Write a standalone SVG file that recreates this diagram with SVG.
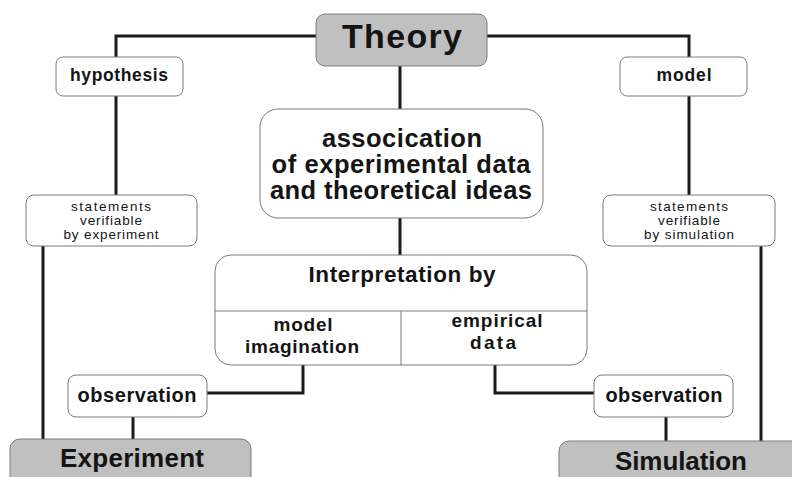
<svg xmlns="http://www.w3.org/2000/svg" width="792" height="477" viewBox="0 0 792 477">
<style>
.box{fill:#ffffff;stroke:#7a7a7a;stroke-width:1}
.gbox{fill:#c0c0c0;stroke:#7a7a7a;stroke-width:1}
.t{font-family:"Liberation Sans",Arial,sans-serif;font-weight:bold;fill:#141414;text-anchor:middle}
.s{font-family:"Liberation Sans",Arial,sans-serif;fill:#141414;text-anchor:middle;font-size:13.5px}
.c{fill:none;stroke:#1a1a1a;stroke-width:3}
</style>
<rect width="792" height="477" fill="#ffffff"/>
<g id="connectors">
<polyline class="c" points="316,36 116,36 116,57"/>
<polyline class="c" points="487,36 689,36 689,57"/>
<line class="c" x1="116" y1="96" x2="116" y2="195"/>
<line class="c" x1="689" y1="96" x2="689" y2="195"/>
<line class="c" x1="400" y1="66" x2="400" y2="109"/>
<line class="c" x1="400" y1="218" x2="400" y2="255"/>
<line class="c" x1="43" y1="246" x2="43" y2="439"/>
<line class="c" x1="761" y1="246" x2="761" y2="441"/>
<polyline class="c" points="207,393 303,393 303,365"/>
<polyline class="c" points="594,393 495,393 495,365"/>
<line class="c" x1="133" y1="417" x2="133" y2="439"/>
<line class="c" x1="666" y1="417" x2="666" y2="441"/>
</g>
<g id="theory">
<rect class="gbox" x="316" y="14" width="171" height="52" rx="9"/>
<text class="t" x="402" y="48" font-size="34" textLength="120" lengthAdjust="spacing">Theory</text>
</g>
<g id="hypothesis">
<rect class="box" x="56" y="57" width="127" height="39" rx="7"/>
<text class="t" x="119" y="81" font-size="17.5" textLength="98" lengthAdjust="spacing">hypothesis</text>
</g>
<g id="model">
<rect class="box" x="620" y="57" width="127" height="39" rx="7"/>
<text class="t" x="684" y="81" font-size="17.5" textLength="55" lengthAdjust="spacing">model</text>
</g>
<g id="association">
<rect class="box" x="260" y="109" width="283" height="109" rx="18"/>
<text class="t" x="402" y="147" font-size="25.5" textLength="160" lengthAdjust="spacing">assocication</text>
<text class="t" x="401" y="173" font-size="25.5" textLength="259" lengthAdjust="spacing">of experimental data</text>
<text class="t" x="401" y="199" font-size="25.5" textLength="262" lengthAdjust="spacing">and theoretical ideas</text>
</g>
<g id="statements-experiment">
<rect class="box" x="26" y="195" width="171" height="51" rx="8"/>
<text class="s" x="111" y="211" textLength="80" lengthAdjust="spacing">statements</text>
<text class="s" x="111" y="225" textLength="62" lengthAdjust="spacing">verifiable</text>
<text class="s" x="111" y="239" textLength="95" lengthAdjust="spacing">by experiment</text>
</g>
<g id="statements-simulation">
<rect class="box" x="603" y="195" width="172" height="51" rx="8"/>
<text class="s" x="689" y="211" textLength="78" lengthAdjust="spacing">statements</text>
<text class="s" x="689" y="225" textLength="62" lengthAdjust="spacing">verifiable</text>
<text class="s" x="689" y="239" textLength="90" lengthAdjust="spacing">by simulation</text>
</g>
<g id="interpretation">
<rect class="box" x="215" y="255" width="372" height="110" rx="16"/>
<line x1="215" y1="311" x2="587" y2="311" stroke="#7a7a7a" stroke-width="1"/>
<line x1="401" y1="311" x2="401" y2="365" stroke="#7a7a7a" stroke-width="1"/>
<text class="t" x="402" y="282" font-size="22.5" textLength="187" lengthAdjust="spacing">Interpretation by</text>
<text class="t" x="303" y="331" font-size="19" textLength="59" lengthAdjust="spacing">model</text>
<text class="t" x="302" y="353" font-size="19" textLength="114" lengthAdjust="spacing">imagination</text>
<text class="t" x="497" y="327" font-size="19" textLength="91" lengthAdjust="spacing">empirical</text>
<text class="t" x="493" y="349" font-size="19" textLength="46" lengthAdjust="spacing">data</text>
</g>
<g id="observation-left">
<rect class="box" x="68" y="375" width="139" height="42" rx="8"/>
<text class="t" x="137" y="402" font-size="20" textLength="119" lengthAdjust="spacing">observation</text>
</g>
<g id="observation-right">
<rect class="box" x="594" y="375" width="139" height="42" rx="8"/>
<text class="t" x="664" y="402" font-size="20" textLength="117" lengthAdjust="spacing">observation</text>
</g>
<g id="experiment">
<rect class="gbox" x="10" y="439" width="241" height="50" rx="10"/>
<text class="t" x="132" y="467" font-size="26" textLength="144" lengthAdjust="spacing">Experiment</text>
</g>
<g id="simulation">
<rect class="gbox" x="559" y="441" width="250" height="50" rx="10"/>
<text class="t" x="681" y="470" font-size="26" textLength="132" lengthAdjust="spacing">Simulation</text>
</g>
</svg>
